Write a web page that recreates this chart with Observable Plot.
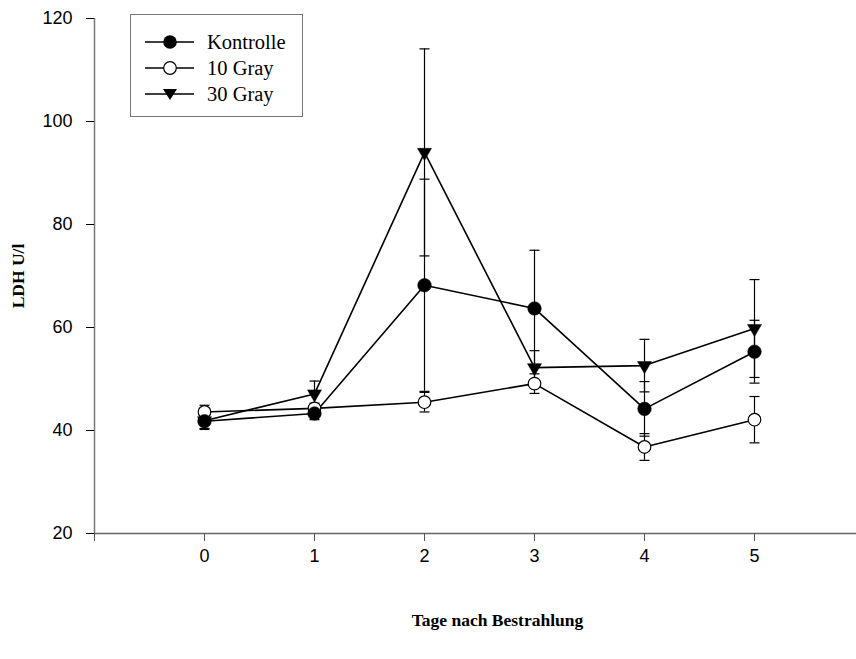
<!DOCTYPE html>
<html><head><meta charset="utf-8">
<script src="https://cdn.jsdelivr.net/npm/d3@7"></script>
<script src="https://cdn.jsdelivr.net/npm/@observablehq/plot@0.6"></script>
<style>
body{margin:0;background:#fff}
#wrap{position:relative;width:856px;height:659px}
#legend{position:absolute;left:130px;top:14px;width:173px;height:103px;border:1px solid #777;background:#fff;box-sizing:border-box}
.row{position:absolute;left:14px;height:24px;display:flex;align-items:center;font-family:"Liberation Serif","Times New Roman",serif;font-size:20.5px;color:#000}
.row svg{margin-right:13px}
</style>
</head><body><div id="wrap"></div>
<script>
const days = [0, 1, 2, 3, 4, 5];
const seriesNames = ["Kontrolle", "10 Gray", "30 Gray"];
const kontrolleMean = [41.8, 43.3, 68.2, 63.7, 44.2, 55.3];
const kontrolleErr  = [1.4, 1.2, 20.6, 11.3, 5.3, 6.1];
const gray10Mean    = [43.6, 44.3, 45.5, 49.1, 36.8, 42.1];
const gray10Err     = [1.3, 1.0, 1.9, 1.9, 2.6, 4.5];
const gray30Mean    = [41.9, 47.1, 94.0, 52.2, 52.6, 59.8];
const gray30Err     = [1.7, 2.5, 20.1, 3.3, 5.1, 9.5];
const yTicks = [20, 40, 60, 80, 100, 120];
const xTicks = [-1, 0, 1, 2, 3, 4, 5];
const xLabel = "Tage nach Bestrahlung";
const yLabel = "LDH U/l";

const means = [kontrolleMean, gray10Mean, gray30Mean];
const errs = [kontrolleErr, gray10Err, gray30Err];
const rows = [];
seriesNames.forEach((s, i) => days.forEach((d, j) => rows.push({
  series: s, day: d, value: means[i][j], lo: means[i][j] - errs[i][j], hi: means[i][j] + errs[i][j]
})));
const caps = rows.flatMap(r => [{day: r.day, y: r.lo}, {day: r.day, y: r.hi}]);

const capSymbol = {draw(ctx, size) { const w = Math.sqrt(size / Math.PI); ctx.moveTo(-w, 0); ctx.lineTo(w, 0); }};
const serif = "'Liberation Serif','Times New Roman',serif";

const chart = Plot.plot({
  width: 856, height: 659,
  marginLeft: 94, marginRight: 0, marginTop: 18, marginBottom: 126,
  style: {fontFamily: "'Liberation Sans',Arial,sans-serif", fontSize: "18px", color: "#000", background: "#fff"},
  x: {domain: [-1, (856 - 94) / 110 - 1]},
  y: {domain: [20, 120]},
  marks: [
    Plot.ruleY([20], {stroke: "#666", strokeWidth: 1.5}),
    Plot.ruleX([-1], {y1: 20, y2: 120, stroke: "#777", strokeWidth: 1.5}),
    Plot.axisY({ticks: yTicks, tickSize: 8, tickPadding: 14, label: null, fontSize: 18}),
    Plot.axisX({ticks: xTicks, tickSize: 8, tickPadding: 8, label: null, fontSize: 18, stroke: "#555",
      tickFormat: d => d < 0 ? "" : String(d)}),
    Plot.ruleX(rows, {x: "day", y1: "lo", y2: "hi", stroke: "#000", strokeWidth: 1.2}),
    Plot.dot(caps, {x: "day", y: "y", symbol: capSymbol, r: 5, stroke: "#000", strokeWidth: 1.2, fill: "none"}),
    Plot.line(rows, {x: "day", y: "value", z: "series", stroke: "#000", strokeWidth: 1.6}),
    Plot.dot(rows.filter(r => r.series === "10 Gray"), {x: "day", y: "value", r: 6.3, fill: "#fff", stroke: "#000", strokeWidth: 1.2}),
    Plot.dot(rows.filter(r => r.series === "Kontrolle"), {x: "day", y: "value", r: 6.8, fill: "#000", stroke: "#000", strokeWidth: 0.5}),
    Plot.dot(rows.filter(r => r.series === "30 Gray"), {x: "day", y: "value", symbol: "triangle", r: 5.2, rotate: 180, fill: "#000", stroke: "#000", strokeWidth: 0.5}),
    Plot.text([xLabel], {frameAnchor: "bottom", dy: 87, dx: 22, lineAnchor: "middle", textAnchor: "middle", fontFamily: serif, fontWeight: "bold", fontSize: 17.5, fill: "#000"}),
    Plot.text([yLabel], {frameAnchor: "left", dx: -76, rotate: -90, textAnchor: "middle", lineAnchor: "middle", fontFamily: serif, fontWeight: "bold", fontSize: 17.5, fill: "#000"})
  ]
});
const wrap = document.getElementById("wrap");
wrap.appendChild(chart);

const legend = document.createElement("div");
legend.id = "legend";
const symbolSvg = {
  "Kontrolle": '<circle cx="25" cy="10" r="6.8" fill="#000"/>',
  "10 Gray": '<circle cx="25" cy="10" r="6.3" fill="#fff" stroke="#000" stroke-width="1.2"/>',
  "30 Gray": '<path d="M18,5 L32,5 L25,16 Z" fill="#000"/>'
};
seriesNames.forEach((s, i) => {
  const row = document.createElement("div");
  row.className = "row";
  row.style.top = (15 + i * 26) + "px";
  row.innerHTML = '<svg width="49" height="20"><line x1="0" y1="10" x2="49" y2="10" stroke="#000" stroke-width="1.6"/>' + symbolSvg[s] + '</svg><span>' + s + '</span>';
  legend.appendChild(row);
});
wrap.appendChild(legend);
</script>
</body></html>
